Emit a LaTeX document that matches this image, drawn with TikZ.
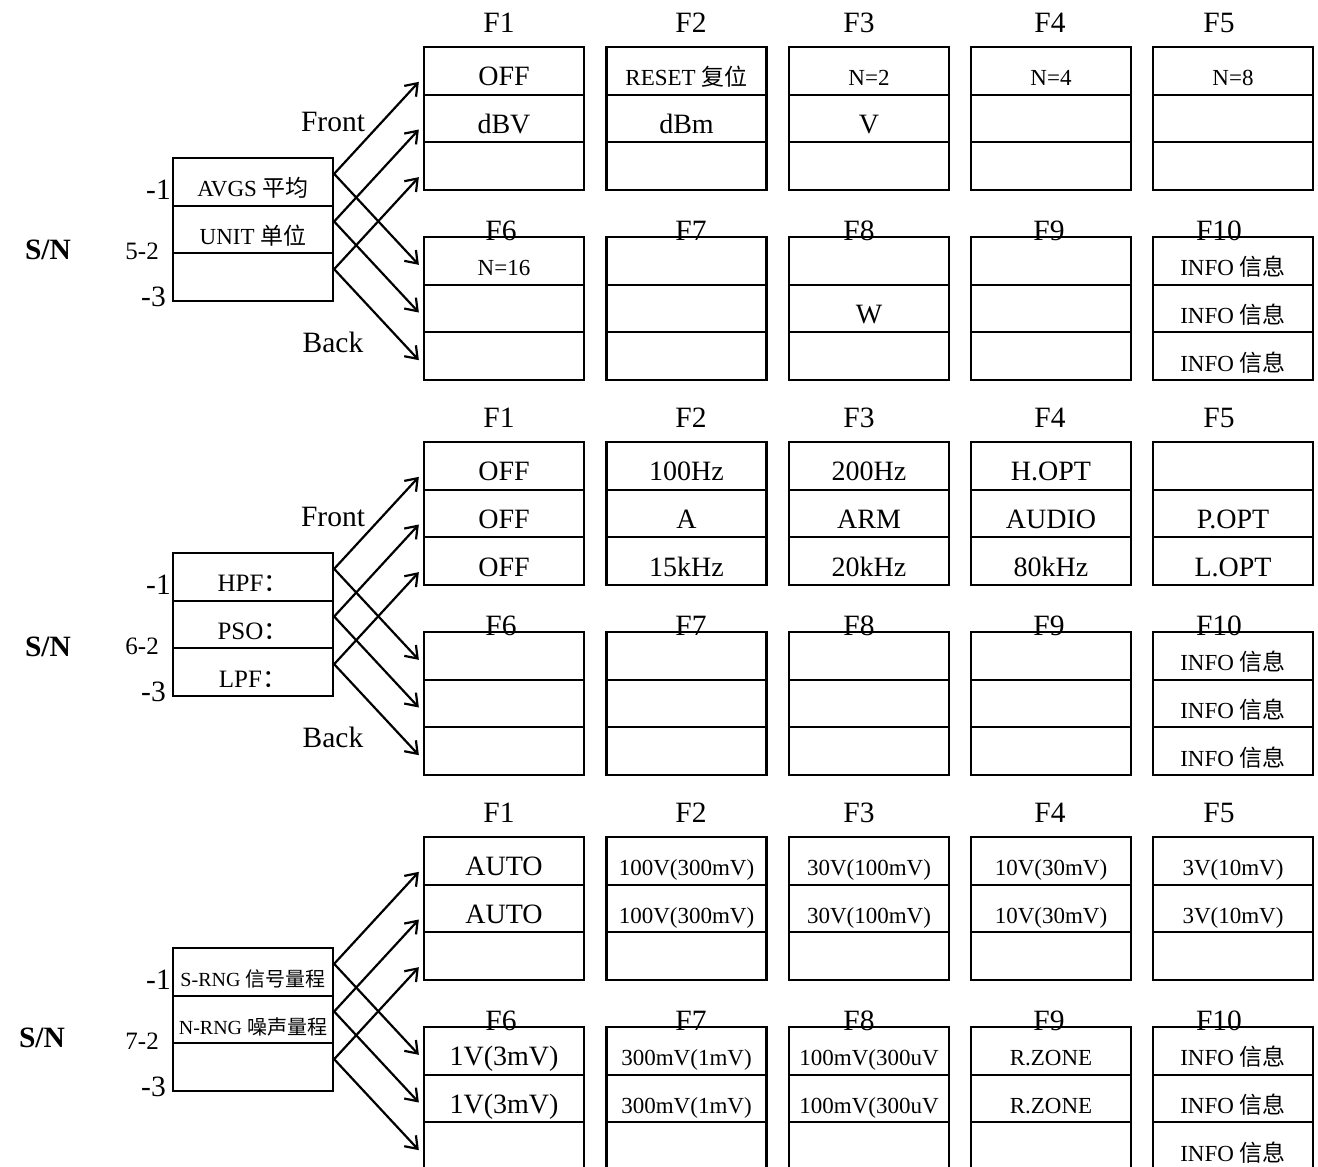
\documentclass[tikz,border=0pt]{standalone}
\usepackage{fontspec}
\setmainfont{Liberation Serif}
\newfontfamily\cjk{Noto Sans CJK SC}
\usetikzlibrary{arrows.meta}
\newcommand\fhuge{\fontsize{29.5}{32}\selectfont}
\newcommand\fbig{\fontsize{28}{30}\selectfont}
\newcommand\fmid{\fontsize{25}{27}\selectfont}
\newcommand\fsml{\fontsize{23}{26}\selectfont}
\newcommand\ftny{\fontsize{20}{22}\selectfont}
\newcommand\mycell[4]{\node[cellbox] (#1) at (#2,#3) {#4};}
\begin{document}
\begin{tikzpicture}[x=1pt,y=-1pt,
  cellbox/.style={draw, line width=2.3pt, minimum width=160pt, minimum height=47.67pt,
    inner sep=0pt, text height=38.67pt, text depth=9pt, font=\fbig},
  arr/.style={line width=2.2pt, -{Straight Barb[length=11pt,width=16pt]}},
  flab/.style={anchor=base, inner sep=0pt, font=\fhuge},
  numlab/.style={anchor=base east, inner sep=0pt, font=\fhuge},
  mlab/.style={anchor=base east, inner sep=0pt, font=\fmid},
  snlab/.style={anchor=base, inner sep=0pt, font=\fhuge\bfseries},
  fblab/.style={anchor=base, inner sep=0pt, font=\fhuge}]
\useasboundingbox (0,0) rectangle (1318,1167);
\fill[white] (0,0) rectangle (1318,1167);
\clip (0,0) rectangle (1318,1167);

% ---------- F labels ----------
\foreach \bk/\o in {1/0,2/395,3/790}{
  \node[flab] (F\bk-1) at (499,32+\o) {F1};
  \node[flab] (F\bk-2) at (691,32+\o) {F2};
  \node[flab] (F\bk-3) at (859,32+\o) {F3};
  \node[flab] (F\bk-4) at (1050,32+\o) {F4};
  \node[flab] (F\bk-5) at (1219,32+\o) {F5};
  \node[flab] (F\bk-6) at (501,240+\o) {F6};
  \node[flab] (F\bk-7) at (691,240+\o) {F7};
  \node[flab] (F\bk-8) at (859,240+\o) {F8};
  \node[flab] (F\bk-9) at (1049,240+\o) {F9};
  \node[flab] (F\bk-10) at (1219,240+\o) {F10};
  \node[numlab] (m\bk-1) at (171,199+\o) {-1};
  \node[numlab] (m\bk-3) at (166,306+\o) {-3};
}
\node[mlab] (m1-2) at (159,259) {5-2};
\node[mlab] (m2-2) at (159,654) {6-2};
\node[mlab] (m3-2) at (159,1049) {7-2};
\node[snlab] (sn1) at (48,259) {S/N};
\node[snlab] (sn2) at (48,656) {S/N};
\node[snlab] (sn3) at (42,1047) {S/N};
\node[fblab] (front1) at (333,131) {Front};
\node[fblab] (back1) at (333,352) {Back};
\node[fblab] (front2) at (333,526) {Front};
\node[fblab] (back2) at (333,747) {Back};

% ---------- Block 1 ----------
\mycell{b1-s1}{253}{181.83}{\fsml AVGS {\cjk 平均}}
\mycell{b1-s2}{253}{229.5}{\fsml UNIT {\cjk 单位}}
\mycell{b1-s3}{253}{277.17}{}

\mycell{b1-f1-r1}{504}{70.83}{OFF}
\mycell{b1-f1-r2}{504}{118.5}{dBV}
\mycell{b1-f1-r3}{504}{166.17}{}
\mycell{b1-f2-r1}{686.5}{70.83}{\fsml RESET {\cjk 复位}}
\mycell{b1-f2-r2}{686.5}{118.5}{dBm}
\mycell{b1-f2-r3}{686.5}{166.17}{}
\mycell{b1-f3-r1}{869}{70.83}{\fsml N=2}
\mycell{b1-f3-r2}{869}{118.5}{V}
\mycell{b1-f3-r3}{869}{166.17}{}
\mycell{b1-f4-r1}{1051}{70.83}{\fsml N=4}
\mycell{b1-f4-r2}{1051}{118.5}{}
\mycell{b1-f4-r3}{1051}{166.17}{}
\mycell{b1-f5-r1}{1233}{70.83}{\fsml N=8}
\mycell{b1-f5-r2}{1233}{118.5}{}
\mycell{b1-f5-r3}{1233}{166.17}{}

\mycell{b1-f6-r1}{504}{260.83}{\fsml N=16}
\mycell{b1-f6-r2}{504}{308.5}{}
\mycell{b1-f6-r3}{504}{356.17}{}
\mycell{b1-f7-r1}{686.5}{260.83}{}
\mycell{b1-f7-r2}{686.5}{308.5}{}
\mycell{b1-f7-r3}{686.5}{356.17}{}
\mycell{b1-f8-r1}{869}{260.83}{}
\mycell{b1-f8-r2}{869}{308.5}{W}
\mycell{b1-f8-r3}{869}{356.17}{}
\mycell{b1-f9-r1}{1051}{260.83}{}
\mycell{b1-f9-r2}{1051}{308.5}{}
\mycell{b1-f9-r3}{1051}{356.17}{}
\mycell{b1-f10-r1}{1233}{260.83}{\fsml INFO {\cjk 信息}}
\mycell{b1-f10-r2}{1233}{308.5}{\fsml INFO {\cjk 信息}}
\mycell{b1-f10-r3}{1233}{356.17}{\fsml INFO {\cjk 信息}}

% ---------- Block 2 ----------
\mycell{b2-s1}{253}{576.83}{\fmid HPF{\cjk ：}}
\mycell{b2-s2}{253}{624.5}{\fmid PSO{\cjk ：}}
\mycell{b2-s3}{253}{672.17}{\fmid LPF{\cjk ：}}

\mycell{b2-f1-r1}{504}{465.83}{OFF}
\mycell{b2-f1-r2}{504}{513.5}{OFF}
\mycell{b2-f1-r3}{504}{561.17}{OFF}
\mycell{b2-f2-r1}{686.5}{465.83}{100Hz}
\mycell{b2-f2-r2}{686.5}{513.5}{A}
\mycell{b2-f2-r3}{686.5}{561.17}{15kHz}
\mycell{b2-f3-r1}{869}{465.83}{200Hz}
\mycell{b2-f3-r2}{869}{513.5}{ARM}
\mycell{b2-f3-r3}{869}{561.17}{20kHz}
\mycell{b2-f4-r1}{1051}{465.83}{H.OPT}
\mycell{b2-f4-r2}{1051}{513.5}{AUDIO}
\mycell{b2-f4-r3}{1051}{561.17}{80kHz}
\mycell{b2-f5-r1}{1233}{465.83}{}
\mycell{b2-f5-r2}{1233}{513.5}{P.OPT}
\mycell{b2-f5-r3}{1233}{561.17}{L.OPT}

\mycell{b2-f6-r1}{504}{655.83}{}
\mycell{b2-f6-r2}{504}{703.5}{}
\mycell{b2-f6-r3}{504}{751.17}{}
\mycell{b2-f7-r1}{686.5}{655.83}{}
\mycell{b2-f7-r2}{686.5}{703.5}{}
\mycell{b2-f7-r3}{686.5}{751.17}{}
\mycell{b2-f8-r1}{869}{655.83}{}
\mycell{b2-f8-r2}{869}{703.5}{}
\mycell{b2-f8-r3}{869}{751.17}{}
\mycell{b2-f9-r1}{1051}{655.83}{}
\mycell{b2-f9-r2}{1051}{703.5}{}
\mycell{b2-f9-r3}{1051}{751.17}{}
\mycell{b2-f10-r1}{1233}{655.83}{\fsml INFO {\cjk 信息}}
\mycell{b2-f10-r2}{1233}{703.5}{\fsml INFO {\cjk 信息}}
\mycell{b2-f10-r3}{1233}{751.17}{\fsml INFO {\cjk 信息}}

% ---------- Block 3 ----------
\mycell{b3-s1}{253}{971.83}{\ftny S-RNG {\cjk 信号量程}}
\mycell{b3-s2}{253}{1019.5}{\ftny N-RNG {\cjk 噪声量程}}
\mycell{b3-s3}{253}{1067.17}{}

\mycell{b3-f1-r1}{504}{860.83}{AUTO}
\mycell{b3-f1-r2}{504}{908.5}{AUTO}
\mycell{b3-f1-r3}{504}{956.17}{}
\mycell{b3-f2-r1}{686.5}{860.83}{\fsml 100V(300mV)}
\mycell{b3-f2-r2}{686.5}{908.5}{\fsml 100V(300mV)}
\mycell{b3-f2-r3}{686.5}{956.17}{}
\mycell{b3-f3-r1}{869}{860.83}{\fsml 30V(100mV)}
\mycell{b3-f3-r2}{869}{908.5}{\fsml 30V(100mV)}
\mycell{b3-f3-r3}{869}{956.17}{}
\mycell{b3-f4-r1}{1051}{860.83}{\fsml 10V(30mV)}
\mycell{b3-f4-r2}{1051}{908.5}{\fsml 10V(30mV)}
\mycell{b3-f4-r3}{1051}{956.17}{}
\mycell{b3-f5-r1}{1233}{860.83}{\fsml 3V(10mV)}
\mycell{b3-f5-r2}{1233}{908.5}{\fsml 3V(10mV)}
\mycell{b3-f5-r3}{1233}{956.17}{}

\mycell{b3-f6-r1}{504}{1050.83}{1V(3mV)}
\mycell{b3-f6-r2}{504}{1098.5}{1V(3mV)}
\mycell{b3-f6-r3}{504}{1146.17}{}
\mycell{b3-f7-r1}{686.5}{1050.83}{\fsml 300mV(1mV)}
\mycell{b3-f7-r2}{686.5}{1098.5}{\fsml 300mV(1mV)}
\mycell{b3-f7-r3}{686.5}{1146.17}{}
\mycell{b3-f8-r1}{869}{1050.83}{\fsml 100mV(300uV}
\mycell{b3-f8-r2}{869}{1098.5}{\fsml 100mV(300uV}
\mycell{b3-f8-r3}{869}{1146.17}{}
\mycell{b3-f9-r1}{1051}{1050.83}{\fsml R.ZONE}
\mycell{b3-f9-r2}{1051}{1098.5}{\fsml R.ZONE}
\mycell{b3-f9-r3}{1051}{1146.17}{}
\mycell{b3-f10-r1}{1233}{1050.83}{\fsml INFO {\cjk 信息}}
\mycell{b3-f10-r2}{1233}{1098.5}{\fsml INFO {\cjk 信息}}
\mycell{b3-f10-r3}{1233}{1146.17}{\fsml INFO {\cjk 信息}}

% ---------- Arrows ----------
\foreach \bk in {1,2,3}{
  \foreach \ri in {1,2,3}{
    \draw[arr] ([yshift=8pt]b\bk-s\ri.east) -- ([xshift=-4pt,yshift=-11pt]b\bk-f1-r\ri.west);
    \draw[arr] ([yshift=8pt]b\bk-s\ri.east) -- ([xshift=-4pt,yshift=-4pt]b\bk-f6-r\ri.west);
  }
}
\end{tikzpicture}
\end{document}
